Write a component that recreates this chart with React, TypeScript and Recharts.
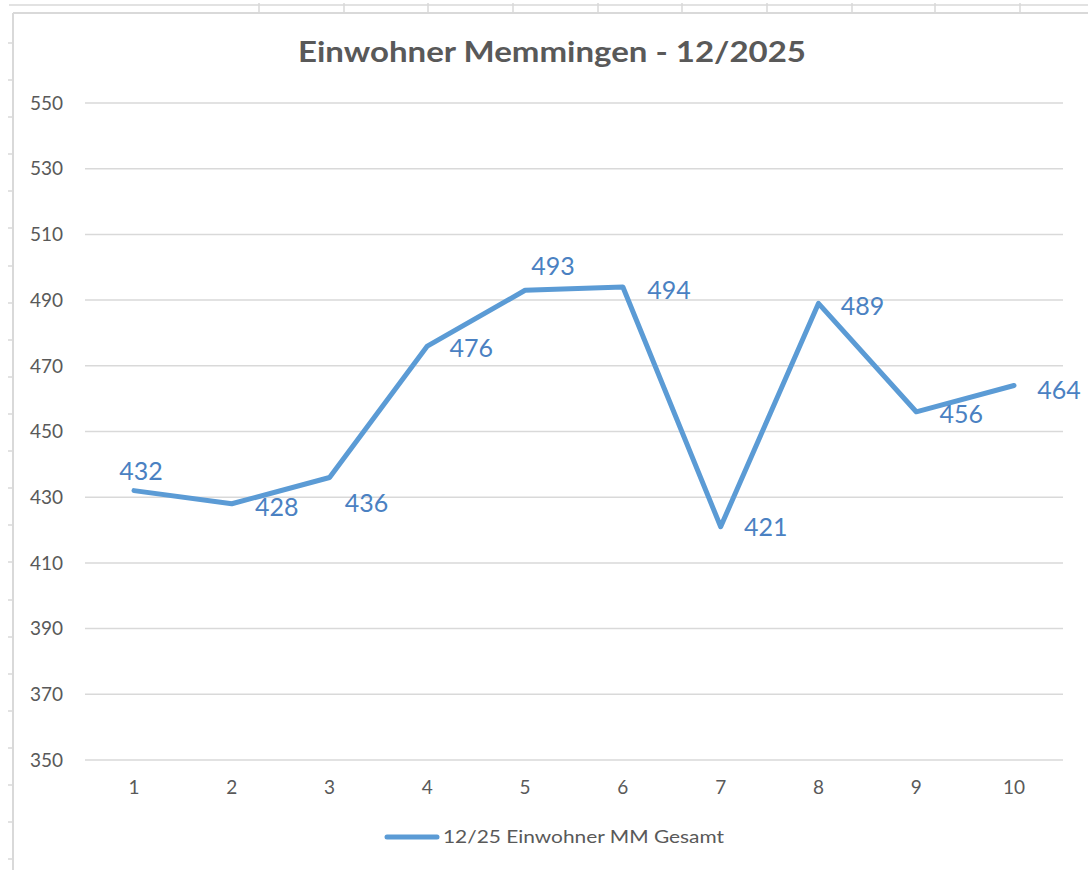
import { LineChart, Line, XAxis, YAxis, CartesianGrid, Legend, LabelList } from 'recharts'

const categories = ['1', '2', '3', '4', '5', '6', '7', '8', '9', '10']
const einwohner = [432, 428, 436, 476, 493, 494, 421, 489, 456, 464]
const yTicks = [350, 370, 390, 410, 430, 450, 470, 490, 510, 530, 550]
const seriesName = '12/25 Einwohner MM Gesamt'
const chartTitle = 'Einwohner Memmingen - 12/2025'

// Excel hat die Datenbeschriftungen teils von Hand verschoben (dx, dy zum Punkt)
const labelOffsets = [
  [7, -21], [45, 2], [37, 25], [44, 1], [28, -25],
  [46, 2], [45, -1], [44, 2], [45, 1], [45, 3],
]

const data = categories.map((c, i) => ({ name: c, value: einwohner[i] }))

const FONT = 'Lato, "Noto Sans", sans-serif'
const GRAY = '#595959'
const BLUE = '#5b9bd5'

function DataLabel(props: any) {
  const { x, y, value, index } = props
  const [dx, dy] = labelOffsets[index] ?? [45, 0]
  return (
    <text
      x={x + dx}
      y={y + dy}
      textAnchor="middle"
      dominantBaseline="central"
      fill="#4a81c2"
      fontSize={25}
      fontFamily={FONT}
    >
      {value}
    </text>
  )
}

function LegendContent() {
  return (
    <svg width={1088} height={26}>
      <line x1={387} x2={437} y1={12} y2={12} stroke={BLUE} strokeWidth={5} strokeLinecap="round" />
      <text x={443} y={18} fill={GRAY} fontSize={17} fontFamily={FONT} textLength={281} lengthAdjust="spacingAndGlyphs">
        {seriesName}
      </text>
    </svg>
  )
}

// Reste vom Tabellenblatt um das Diagramm herum
function SheetLines() {
  const cols = [259, 344, 428, 513, 598, 682, 767, 852, 935, 1020]
  const rows: number[] = []
  for (let y = 43; y < 870; y += 37.1) rows.push(Math.round(y))
  return (
    <svg width={1088} height={870} style={{ position: 'absolute', left: 0, top: 0 }}>
      <line x1={9} x2={1088} y1={5} y2={5} stroke="#e2e2e2" strokeWidth={2} />
      <line x1={13} x2={1088} y1={13} y2={13} stroke="#d9d9d9" strokeWidth={2} />
      <line x1={13} x2={13} y1={13} y2={870} stroke="#d9d9d9" strokeWidth={2} />
      {cols.map((x) => (
        <line key={x} x1={x} x2={x} y1={3} y2={13} stroke="#d9d9d9" strokeWidth={1.5} />
      ))}
      {rows.map((y) => (
        <line key={y} x1={8} x2={13} y1={y} y2={y} stroke="#d9d9d9" strokeWidth={1.5} />
      ))}
      <text
        x={552}
        y={62}
        textAnchor="middle"
        fill={GRAY}
        fontSize={29}
        fontWeight={700}
        fontFamily={FONT}
        textLength={508}
        lengthAdjust="spacingAndGlyphs"
      >
        {chartTitle}
      </text>
    </svg>
  )
}

export default function App() {
  return (
    <div style={{ position: 'absolute', left: 0, top: 0, width: 1088, height: 870, background: '#fff' }}>
      <SheetLines />
      <div style={{ position: 'absolute', left: 0, top: 0 }}>
        <LineChart width={1088} height={870} data={data} margin={{ top: 103, right: 25, left: 0, bottom: 80 }}>
          <CartesianGrid vertical={false} stroke="#d9d9d9" strokeWidth={1.5} />
          <XAxis
            dataKey="name"
            padding={{ left: 49, right: 49 }}
            axisLine={false}
            tickLine={false}
            tickMargin={15}
            tick={{ fill: GRAY, fontSize: 19, fontFamily: FONT }}
          />
          <YAxis
            width={85}
            domain={[350, 550]}
            ticks={yTicks}
            interval={0}
            axisLine={false}
            tickLine={false}
            tickMargin={16}
            tick={{ fill: GRAY, fontSize: 19, fontFamily: FONT }}
          />
          <Legend
            verticalAlign="middle"
            align="center"
            content={<LegendContent />}
            wrapperStyle={{ top: 825, left: 0, width: 1088 }}
          />
          <Line
            type="linear"
            dataKey="value"
            name={seriesName}
            stroke={BLUE}
            strokeWidth={5}
            strokeLinejoin="round"
            strokeLinecap="round"
            dot={false}
            activeDot={false}
            isAnimationActive={false}
          >
            <LabelList dataKey="value" content={<DataLabel />} />
          </Line>
        </LineChart>
      </div>
    </div>
  )
}
